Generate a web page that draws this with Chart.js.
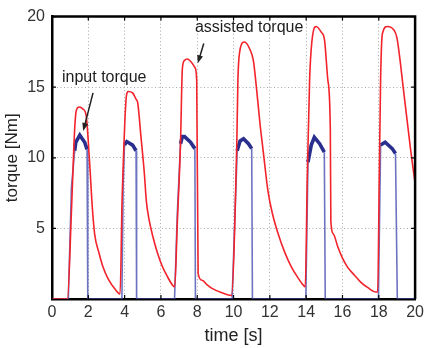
<!DOCTYPE html>
<html>
<head>
<meta charset="utf-8">
<title>Torque</title>
<script src="https://cdn.jsdelivr.net/npm/chart.js@4.4.0/dist/chart.umd.min.js"></script>
<style>
  html, body { margin: 0; padding: 0; background: #fff; }
  #wrap { width: 428px; height: 348px; }
</style>
</head>
<body>
<div id="wrap"><canvas id="torqueChart" width="428" height="348"></canvas></div>
<script>
// tick labels
const xTicks = [0, 2, 4, 6, 8, 10, 12, 14, 16, 18, 20];
const yTicks = [5, 10, 15, 20];

// assisted torque (red)
const assistedTime = [
  0, 0.85, 1.07, 1.26, 1.35, 1.5, 1.71, 1.88, 2.08, 2.22, 2.35, 2.6, 2.8, 3.1, 3.5, 3.75,
  3.86, 3.95, 4.02, 4.1, 4.2, 4.44, 4.63, 4.72, 4.9, 5.08, 5.2, 5.35, 5.54, 5.8, 6.08, 6.35, 6.63, 6.76,
  6.9, 7.08, 7.18, 7.3, 7.45, 7.72, 7.87, 7.97, 8.05, 8.27, 8.55, 8.81, 9.36, 9.88,
  10.18, 10.24, 10.35, 10.6, 10.91, 11.09, 11.27, 11.45, 11.64, 11.9, 12.15, 12.46, 12.82, 13.19, 13.55, 13.83, 13.95,
  14.06, 14.19, 14.37, 14.55, 14.83, 15.01, 15.19, 15.33, 15.36, 15.5, 15.74, 16.0, 16.28, 16.65, 17.0, 17.4, 17.83, 17.94,
  18.02, 18.1, 18.2, 18.47, 18.83, 19.0, 19.38, 19.75, 20.0
];
const assistedTorque = [
  0, 0, 6.2, 12.3, 13.4, 13.6, 13.45, 13.0, 9.5, 6.5, 4.6, 3.2, 2.3, 1.4, 0.65, 0.35,
  7.0, 10.5, 12.8, 14.4, 14.7, 14.6, 14.15, 13.9, 11.5, 9.0, 6.9, 5.6, 4.5, 3.3, 2.3, 1.6, 1.0, 0.86,
  5.3, 11.1, 16.3, 16.9, 17.0, 16.7, 16.4, 15.5, 1.8, 1.33, 1.0, 0.75, 0.44, 0.25,
  11.1, 15.5, 17.6, 18.2, 17.65, 16.9, 14.85, 12.5, 10.4, 7.6, 6.0, 4.6, 3.3, 2.26, 1.5, 1.0, 0.86,
  8.5, 15.55, 18.8, 19.3, 18.9, 18.35, 15.55, 12.0, 5.5, 4.6, 3.7, 2.9, 2.26, 1.7, 1.2, 0.8, 0.5, 0.5,
  8.0, 15.55, 18.8, 19.3, 19.05, 18.5, 14.6, 10.6, 8.2
];

// input torque (blue)
const inputTime = [
  0, 0.9, 1.07, 1.25, 1.31, 1.53, 1.8, 1.93, 1.97,
  3.85, 3.92, 3.99, 4.12, 4.44, 4.63, 4.66,
  6.75, 6.9, 7.08, 7.18, 7.3, 7.63, 7.87, 7.9,
  9.92, 10.2, 10.36, 10.55, 10.82, 11.0, 11.04,
  13.98, 14.1, 14.28, 14.45, 14.74, 15.0, 15.05,
  17.98, 18.1, 18.35, 18.74, 18.92, 19.02, 20
];
const inputTorque = [
  0, 0, 7.9, 10.5, 11.1, 11.6, 11.1, 10.6, 0,
  0, 8.0, 10.9, 11.15, 10.9, 10.5, 0,
  0, 6.0, 11.0, 11.5, 11.5, 11.1, 10.65, 0,
  0, 10.5, 11.2, 11.35, 11.0, 10.65, 0,
  0, 9.7, 10.9, 11.45, 11.0, 10.4, 0,
  0, 10.9, 11.1, 10.65, 10.3, 0, 0
];

const seriesNames = ['assisted torque', 'input torque'];

// where the callouts sit, in data units
const calloutLayout = [
  { label: 'input torque', text: [0.55, 15.7], from: [2.26, 14.6], to: [1.72, 11.9] },
  { label: 'assisted torque', text: [7.87, 19.2], from: [8.36, 18.1], to: [8.03, 16.7] }
];

const toPoints = (xs, ys) => xs.map((x, i) => ({ x: x, y: ys[i] }));

// box frame with inward ticks, matlab style
const framePlugin = {
  id: 'frame',
  afterDraw(chart) {
    const { ctx, chartArea: a, scales } = chart;
    ctx.save();
    ctx.strokeStyle = '#000';
    ctx.lineWidth = 2.5;
    ctx.beginPath();
    ctx.moveTo(a.left, a.top);
    ctx.lineTo(a.right, a.top);
    ctx.lineTo(a.right, a.bottom);
    ctx.stroke();
    ctx.lineWidth = 1.2;
    ctx.beginPath();
    xTicks.forEach(v => {
      const px = scales.x.getPixelForValue(v);
      ctx.moveTo(px, a.top); ctx.lineTo(px, a.top + 4);
      ctx.moveTo(px, a.bottom); ctx.lineTo(px, a.bottom - 4);
    });
    yTicks.forEach(v => {
      const py = scales.y.getPixelForValue(v);
      ctx.moveTo(a.right, py); ctx.lineTo(a.right - 4, py);
      ctx.moveTo(a.left, py); ctx.lineTo(a.left + 4, py);
    });
    ctx.stroke();
    ctx.restore();
  }
};

const calloutPlugin = {
  id: 'callouts',
  afterDraw(chart) {
    const { ctx, scales } = chart;
    const px = v => scales.x.getPixelForValue(v);
    const py = v => scales.y.getPixelForValue(v);
    ctx.save();
    ctx.font = '16px "Liberation Sans", Arial, sans-serif';
    ctx.textAlign = 'left';
    ctx.textBaseline = 'middle';
    calloutLayout.forEach(c => {
      ctx.fillStyle = '#1e1e1e';
      ctx.fillText(c.label, px(c.text[0]), py(c.text[1]));
      const x1 = px(c.from[0]), y1 = py(c.from[1]);
      const x2 = px(c.to[0]), y2 = py(c.to[1]);
      const ang = Math.atan2(y2 - y1, x2 - x1);
      ctx.strokeStyle = '#222';
      ctx.lineWidth = 1.5;
      ctx.beginPath();
      ctx.moveTo(x1, y1);
      ctx.lineTo(x2 - 5 * Math.cos(ang), y2 - 5 * Math.sin(ang));
      ctx.stroke();
      ctx.beginPath();
      ctx.moveTo(x2, y2);
      ctx.lineTo(x2 - 8 * Math.cos(ang) + 3 * Math.sin(ang), y2 - 8 * Math.sin(ang) - 3 * Math.cos(ang));
      ctx.lineTo(x2 - 8 * Math.cos(ang) - 3 * Math.sin(ang), y2 - 8 * Math.sin(ang) + 3 * Math.cos(ang));
      ctx.closePath();
      ctx.fillStyle = '#222';
      ctx.fill();
    });
    ctx.restore();
  }
};

const tickFont = { family: '"Liberation Sans", Arial, sans-serif', size: 16 };
const isTop = ctx => ctx.p0.parsed.y > 9.5 && ctx.p1.parsed.y > 9.5;

new Chart(document.getElementById('torqueChart'), {
  type: 'line',
  data: {
    datasets: [
      {
        label: seriesNames[0],
        data: toPoints(assistedTime, assistedTorque),
        borderColor: '#f2232b',
        borderWidth: 1.6,
        pointRadius: 0,
        cubicInterpolationMode: 'monotone',
        order: 0
      },
      {
        label: seriesNames[1],
        data: toPoints(inputTime, inputTorque),
        borderColor: '#2b3192',
        borderWidth: 1.5,
        pointRadius: 0,
        tension: 0,
        order: 1,
        segment: {
          borderWidth: ctx => isTop(ctx) ? 3.6 : 1.6,
          borderColor: ctx => isTop(ctx) ? '#2a2f8e' : 'rgba(72, 80, 178, 0.8)'
        }
      }
    ]
  },
  options: {
    responsive: false,
    animation: false,
    layout: { padding: { top: 13, right: 10, left: 0, bottom: 0 } },
    plugins: {
      legend: { display: false },
      tooltip: { enabled: false }
    },
    scales: {
      x: {
        type: 'linear',
        min: 0,
        max: 20,
        afterBuildTicks: s => { s.ticks = xTicks.map(v => ({ value: v })); },
        afterFit: s => { s.height = 49; },
        ticks: { font: tickFont, color: '#333', padding: 4, maxRotation: 0 },
        grid: { color: '#a8a8a8', lineWidth: 1, drawTicks: false },
        border: { display: true, color: '#000', width: 2.5, dash: [1, 2.5] },
        title: {
          display: true,
          text: 'time [s]',
          color: '#222',
          font: { family: '"Liberation Sans", Arial, sans-serif', size: 18 },
          padding: { top: 1, bottom: 1 }
        }
      },
      y: {
        min: 0,
        max: 20,
        afterBuildTicks: s => { s.ticks = yTicks.map(v => ({ value: v })); },
        afterFit: s => { s.width = 52; },
        ticks: { font: tickFont, color: '#333', padding: 7 },
        grid: { color: '#a8a8a8', lineWidth: 1, drawTicks: false },
        border: { display: true, color: '#000', width: 2.5, dash: [1, 2.5] },
        title: {
          display: true,
          text: 'torque [Nm]',
          color: '#222',
          font: { family: '"Liberation Sans", Arial, sans-serif', size: 17 },
          padding: { top: 2, bottom: 2 }
        }
      }
    }
  },
  plugins: [framePlugin, calloutPlugin]
});
</script>
</body>
</html>
